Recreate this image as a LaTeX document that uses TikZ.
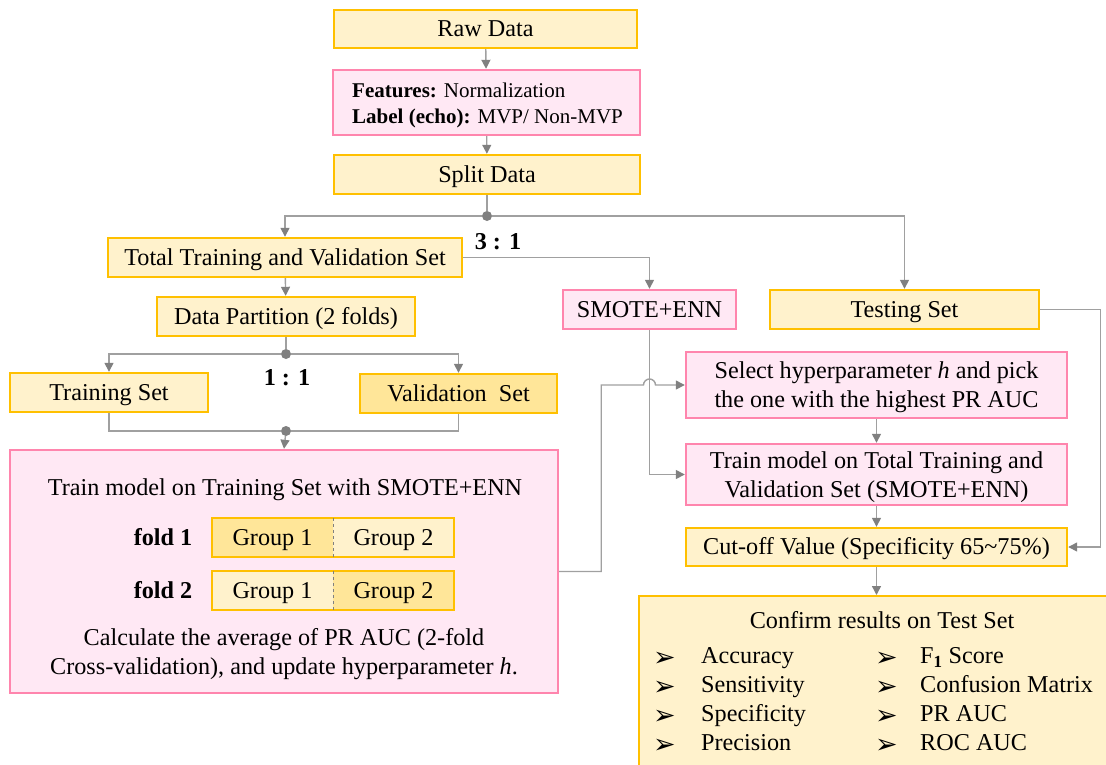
\documentclass[tikz,border=0pt]{standalone}
\usepackage{fontspec}
\setmainfont{Liberation Serif}
\newfontfamily\symfont{DejaVu Sans}
\usetikzlibrary{arrows.meta,calc}
\definecolor{boxgold}{HTML}{FFC000}
\definecolor{yfill}{HTML}{FFF2CC}
\definecolor{ydark}{HTML}{FFE699}
\definecolor{pinkline}{HTML}{FF85AD}
\definecolor{pinkfill}{HTML}{FFE8F4}
\definecolor{linegray}{HTML}{A0A0A0}
\definecolor{arrowgray}{HTML}{808080}
\newcommand\mainsize{\fontsize{24.2}{29}\selectfont}
\newcommand\smallsize{\fontsize{21}{26}\selectfont}
\begin{document}
\begin{tikzpicture}[x=1pt,y=-1pt,
  box/.style={rectangle, line width=2.4pt, inner sep=0pt, font=\mainsize, align=center},
  one/.style={text height=17.5pt, text depth=2.5pt},
  multi/.style={text depth=0pt},
  ybox/.style={box, draw=boxgold, fill=yfill},
  pbox/.style={box, draw=pinkline, fill=pinkfill},
  conn/.style={draw=linegray, line width=1.4pt},
  arr/.style={conn, -{Triangle[length=9pt,width=9pt,color=arrowgray,fill=arrowgray]}},
  dot/.style={circle, fill=arrowgray, inner sep=0pt, minimum size=10pt},
  txt/.style={inner sep=0pt, font=\mainsize, align=center},
  item/.style={anchor=west, inner sep=0pt, font=\mainsize, text height=16pt, text depth=5pt},
  bul/.style={anchor=center, inner sep=0pt, font=\symfont\fontsize{27}{28}\selectfont},
  half/.style={rectangle, inner sep=0pt, draw=none, minimum width=121pt, minimum height=39pt, font=\mainsize, one}
]
\clip (0,0) rectangle (1106,764);

% main pipeline
\node[ybox, one, minimum width=303pt, minimum height=38pt] (raw) at (485.5,29) {Raw Data};
\node[pbox, minimum width=307pt, minimum height=65pt] (feat) at (486.5,102.5) {};
\node[inner sep=0pt, anchor=west, align=left, font=\smallsize] (feattext) at (352,105)
  {\textbf{Features:} Normalization\\\textbf{Label (echo):} MVP/ Non-MVP};
\node[ybox, one, minimum width=306pt, minimum height=39pt] (split) at (487,174.5) {Split Data};
\node[dot] (d1) at (487,216) {};
\node[txt, font=\mainsize\bfseries] (r31) at (498,242) {3 : 1};

\node[ybox, one, minimum width=354pt, minimum height=39pt] (total) at (285,257.5) {Total Training and Validation Set};
\node[pbox, one, minimum width=173pt, minimum height=39pt] (smote) at (649.5,309.5) {SMOTE+ENN};
\node[ybox, one, minimum width=269pt, minimum height=39pt] (testing) at (904.5,309.5) {Testing Set};
\node[ybox, one, minimum width=258pt, minimum height=39pt] (partition) at (286,316.5) {Data Partition (2 folds)};
\node[dot] (d2) at (286,354) {};
\node[txt, font=\mainsize\bfseries] (r11) at (287,378) {1 : 1};
\node[ybox, one, minimum width=198pt, minimum height=39pt] (train) at (109,392.5) {Training Set};
\node[box, one, draw=boxgold, fill=ydark, minimum width=197pt, minimum height=39pt] (valid) at (458.5,393.5) {Validation\ \ Set};
\node[dot] (d3) at (286,431) {};

% cross-validation block
\node[pbox, minimum width=548pt, minimum height=243pt] (cvbox) at (284,571.5) {};
\node[txt] (cvtitle) at (285,490) {Train model on Training Set with SMOTE+ENN};
\node[txt, font=\mainsize\bfseries] (f1) at (163,537.5) {fold 1};
\node[half, fill=ydark] (g11) at (272.5,537.5) {Group 1};
\node[half, fill=yfill] (g12) at (393.5,537.5) {Group 2};
\draw[boxgold, line width=1.8pt] (g11.north west) rectangle (g12.south east);
\draw[arrowgray, dashed, line width=1.2pt] (g11.north east) -- (g11.south east);
\node[txt, font=\mainsize\bfseries] (f2) at (163,590.5) {fold 2};
\node[half, fill=yfill] (g21) at (272.5,590.5) {Group 1};
\node[half, fill=ydark] (g22) at (393.5,590.5) {Group 2};
\draw[boxgold, line width=1.8pt] (g21.north west) rectangle (g22.south east);
\draw[arrowgray, dashed, line width=1.2pt] (g21.north east) -- (g21.south east);
\node[txt] (calc) at (284,654) {Calculate the average of PR AUC (2-fold\\Cross-validation), and update hyperparameter \textit{h}.};

% right column
\node[pbox, multi, minimum width=381pt, minimum height=66pt] (select) at (876.5,385)
  {Select hyperparameter \textit{h} and pick\\the one with the highest PR AUC};
\node[pbox, multi, minimum width=381pt, minimum height=61pt] (trainall) at (876.5,474.5)
  {Train model on Total Training and\\Validation Set (SMOTE+ENN)};
\node[ybox, one, minimum width=381pt, minimum height=38pt] (cutoff) at (876.5,547) {Cut-off Value (Specificity 65\textasciitilde75\%)};
\node[ybox, anchor=north west, minimum width=520pt, minimum height=220pt] (confirm) at (638,595) {};
\node[txt] (ctitle) at (882,620) {Confirm results on Test Set};

\foreach \t [count=\i] in {Accuracy, Sensitivity, Specificity, Precision} {
  \node[bul] (ba\i) at (664.5,{659+29*(\i-1)}) {➢};
  \node[item] (ia\i) at (701,{658+29*(\i-1)}) {\t};
}
\foreach \t [count=\i] in {{F$_{\mathbf{1}}$ Score}, Confusion Matrix, PR AUC, ROC AUC} {
  \node[bul] (bb\i) at (886.5,{659+29*(\i-1)}) {➢};
  \node[item] (ib\i) at (920,{658+29*(\i-1)}) {\t};
}

% connectors
\draw[arr] (raw) -- (feat);
\draw[arr] (feat) -- (split);
\draw[conn] (split) -- (d1);
\draw[arr] (d1) -| (total.north);
\draw[arr] (d1) -| (testing.north);
\draw[arr] (total.east) -| (smote.north);
\draw[arr] (total) -- (partition);
\draw[conn] (partition) -- (d2);
\draw[arr] (d2) -| (train.north);
\draw[arr] (d2) -| (valid.north);
\draw[conn] (train.south) |- (d3);
\draw[conn] (valid.south) |- (d3);
\draw[arr] (d3) -- (cvbox.north);

\coordinate (hopL) at ($(smote.south |- select.west)+(-6,0)$);
\draw[arr] (cvbox.east) -- ++(42,0) |- (hopL) arc[start angle=180, end angle=0, radius=6pt] -- (select.west);
\draw[arr] (smote.south) |- (trainall.west);
\draw[arr] (select) -- (trainall);
\draw[arr] (trainall) -- (cutoff);
\draw[arr] (testing.east) -- ++(60,0) |- (cutoff.east);
\draw[arr] (cutoff.south) -- (cutoff.south |- confirm.north);
\end{tikzpicture}
\end{document}
